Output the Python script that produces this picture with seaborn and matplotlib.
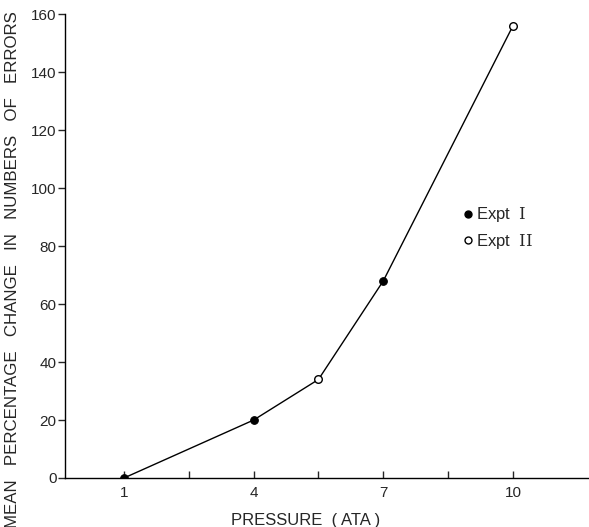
import pandas as pd
import matplotlib
matplotlib.use('Agg')
import matplotlib.pyplot as plt
from matplotlib.lines import Line2D
import seaborn as sns

# --- datos ---
pressure = [1, 4, 5.5, 7, 10]
pct_change = [0, 20, 34, 68, 156]
expt = ['I', 'I', 'II', 'I', 'II']
x_ticks = [1, 2.5, 4, 5.5, 7, 8.5, 10]
x_labels = ['1', '', '4', '', '7', '', '10']
y_ticks = [0, 20, 40, 60, 80, 100, 120, 140, 160]

sns.set_style('ticks')
plt.rcParams['font.family'] = ['Liberation Sans', 'DejaVu Sans']
plt.rcParams['mathtext.fontset'] = 'dejavuserif'

df = pd.DataFrame({'Pressure': pressure, 'Change': pct_change, 'Expt': expt})

fig = plt.figure(figsize=(5.89, 5.27), dpi=100)
ax = fig.add_axes([0.110, 0.093, 0.890, 0.880])

# linea que une todos los puntos
sns.lineplot(data=df, x='Pressure', y='Change', color='black', linewidth=1,
             sort=True, ax=ax, legend=False)

# Expt I: puntos rellenos, Expt II: puntos huecos
sns.scatterplot(data=df[df['Expt'] == 'I'], x='Pressure', y='Change', s=30,
                color='black', edgecolor='black', linewidth=0.8, zorder=3, ax=ax)
sns.scatterplot(data=df[df['Expt'] == 'II'], x='Pressure', y='Change', s=30,
                facecolor='white', edgecolor='black', linewidth=1.0, zorder=3, ax=ax)

ax.set_xlim(-0.37, 11.76)
ax.set_ylim(0, 160)
ax.set_xticks(x_ticks)
ax.set_xticklabels(x_labels)
ax.set_yticks(y_ticks)
ax.tick_params(axis='x', direction='in', length=5, width=1, labelsize=11, pad=6)
ax.tick_params(axis='y', direction='out', length=5, width=1, labelsize=11, pad=1)
for s in ['left', 'bottom']:
    ax.spines[s].set_linewidth(1)
    ax.spines[s].set_color('black')
sns.despine(ax=ax)

ax.set_xlabel('PRESSURE  ( ATA )', fontsize=12)
ax.xaxis.set_label_coords(0.46, -0.075)
ax.set_ylabel('MEAN   PERCENTAGE   CHANGE   IN   NUMBERS   OF   ERRORS',
              fontsize=12.2)
ax.yaxis.set_label_coords(-0.086, 0.45)

handles = [
    Line2D([], [], marker='o', linestyle='none', color='black', markersize=5),
    Line2D([], [], marker='o', linestyle='none', markerfacecolor='white',
           markeredgecolor='black', markersize=5),
]
ax.legend(handles, [r'Expt  $\mathrm{I}$', r'Expt  $\mathrm{II}$'], loc='upper left',
          bbox_to_anchor=(0.728, 0.62), frameon=False, fontsize=12,
          handletextpad=0.1, handlelength=0.8, labelspacing=0.45)

fig.savefig('out.png', dpi=100)
